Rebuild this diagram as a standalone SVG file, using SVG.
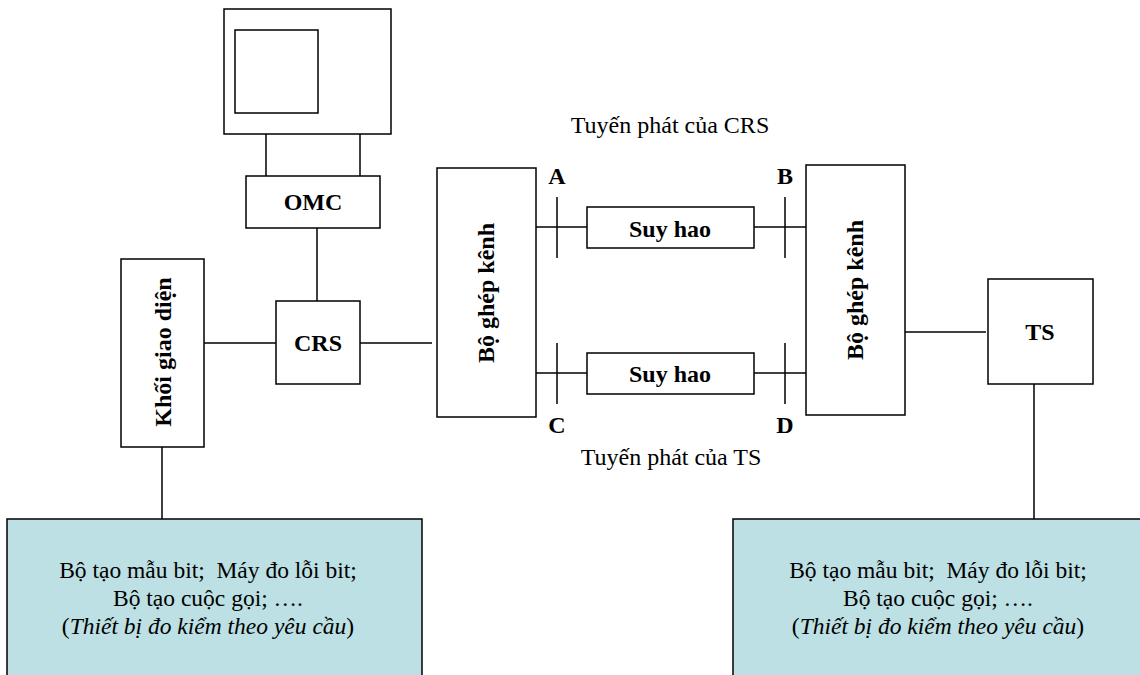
<svg xmlns="http://www.w3.org/2000/svg" width="1140" height="675" viewBox="0 0 1140 675">
<style>
.box{fill:#fff;stroke:#000;stroke-width:1.5}
.meas{fill:#bce0e3;stroke:#000;stroke-width:1.5}
.ln{stroke:#000;stroke-width:1.5;fill:none}
.b{font-family:"Liberation Serif","Times New Roman",serif;font-weight:bold;font-size:24px;fill:#000}
.r{font-family:"Liberation Serif","Times New Roman",serif;font-size:24px;fill:#000}
.m{font-family:"Liberation Serif","Times New Roman",serif;font-size:23.5px;fill:#000}
</style>
<rect width="1140" height="675" fill="#fff"/>
<g id="connectors">
<line class="ln" x1="266" y1="134" x2="266" y2="176"/>
<line class="ln" x1="360" y1="134" x2="360" y2="176"/>
<line class="ln" x1="317" y1="228" x2="317" y2="301"/>
<line class="ln" x1="204" y1="343" x2="276" y2="343"/>
<line class="ln" x1="360" y1="343" x2="432" y2="343"/>
<line class="ln" x1="162" y1="447" x2="162" y2="519"/>
<line class="ln" x1="536" y1="227" x2="587" y2="227"/>
<line class="ln" x1="754" y1="227" x2="806" y2="227"/>
<line class="ln" x1="536" y1="373" x2="587" y2="373"/>
<line class="ln" x1="754" y1="373" x2="806" y2="373"/>
<line class="ln" x1="557" y1="197" x2="557" y2="258"/>
<line class="ln" x1="785" y1="197" x2="785" y2="258"/>
<line class="ln" x1="557" y1="343" x2="557" y2="404"/>
<line class="ln" x1="785" y1="343" x2="785" y2="404"/>
<line class="ln" x1="905" y1="332" x2="986" y2="332"/>
<line class="ln" x1="1034" y1="384" x2="1034" y2="519"/>
</g>
<g id="monitor">
<rect class="box" x="224" y="9" width="167" height="125"/>
<rect class="box" x="235" y="30" width="83" height="83"/>
</g>
<g id="omc">
<rect class="box" x="246" y="176" width="134" height="52"/>
<text class="b" x="313" y="210" text-anchor="middle">OMC</text>
</g>
<g id="crs">
<rect class="box" x="276" y="301" width="84" height="83"/>
<text class="b" x="318" y="351" text-anchor="middle">CRS</text>
</g>
<g id="khoi-giao-dien">
<rect class="box" x="121" y="259" width="83" height="188"/>
<text class="b" transform="translate(171,352) rotate(-90)" text-anchor="middle">Khối giao diện</text>
</g>
<g id="bo-ghep-kenh-left">
<rect class="box" x="437" y="168" width="99" height="249"/>
<text class="b" transform="translate(494,293) rotate(-90)" text-anchor="middle">Bộ ghép kênh</text>
</g>
<g id="bo-ghep-kenh-right">
<rect class="box" x="806" y="165" width="99" height="250"/>
<text class="b" transform="translate(863,290) rotate(-90)" text-anchor="middle">Bộ ghép kênh</text>
</g>
<g id="suy-hao-top">
<rect class="box" x="587" y="207" width="167" height="41"/>
<text class="b" x="670" y="237" text-anchor="middle">Suy hao</text>
</g>
<g id="suy-hao-bottom">
<rect class="box" x="587" y="353" width="167" height="41"/>
<text class="b" x="670" y="382" text-anchor="middle">Suy hao</text>
</g>
<g id="ts">
<rect class="box" x="988" y="279" width="105" height="105"/>
<text class="b" x="1040" y="340" text-anchor="middle">TS</text>
</g>
<g id="labels">
<text class="b" x="557" y="184" text-anchor="middle">A</text>
<text class="b" x="785" y="184" text-anchor="middle">B</text>
<text class="b" x="557" y="433" text-anchor="middle">C</text>
<text class="b" x="785" y="433" text-anchor="middle">D</text>
<text class="r" x="670" y="133" text-anchor="middle">Tuyến phát của CRS</text>
<text class="r" x="671" y="465" text-anchor="middle">Tuyến phát của TS</text>
</g>
<g id="measure-left">
<rect class="meas" x="7" y="519" width="415" height="170"/>
<text class="m" x="208" y="578" text-anchor="middle" xml:space="preserve">Bộ tạo mẫu bit;  Máy đo lỗi bit;</text>
<text class="m" x="208" y="606" text-anchor="middle">Bộ tạo cuộc gọi; ….</text>
<text class="m" x="208" y="634" text-anchor="middle">(<tspan font-style="italic">Thiết bị đo kiểm theo yêu cầu</tspan>)</text>
</g>
<g id="measure-right">
<rect class="meas" x="733" y="519" width="420" height="170"/>
<text class="m" x="938" y="578" text-anchor="middle" xml:space="preserve">Bộ tạo mẫu bit;  Máy đo lỗi bit;</text>
<text class="m" x="938" y="606" text-anchor="middle">Bộ tạo cuộc gọi; ….</text>
<text class="m" x="938" y="634" text-anchor="middle">(<tspan font-style="italic">Thiết bị đo kiểm theo yêu cầu</tspan>)</text>
</g>
</svg>
